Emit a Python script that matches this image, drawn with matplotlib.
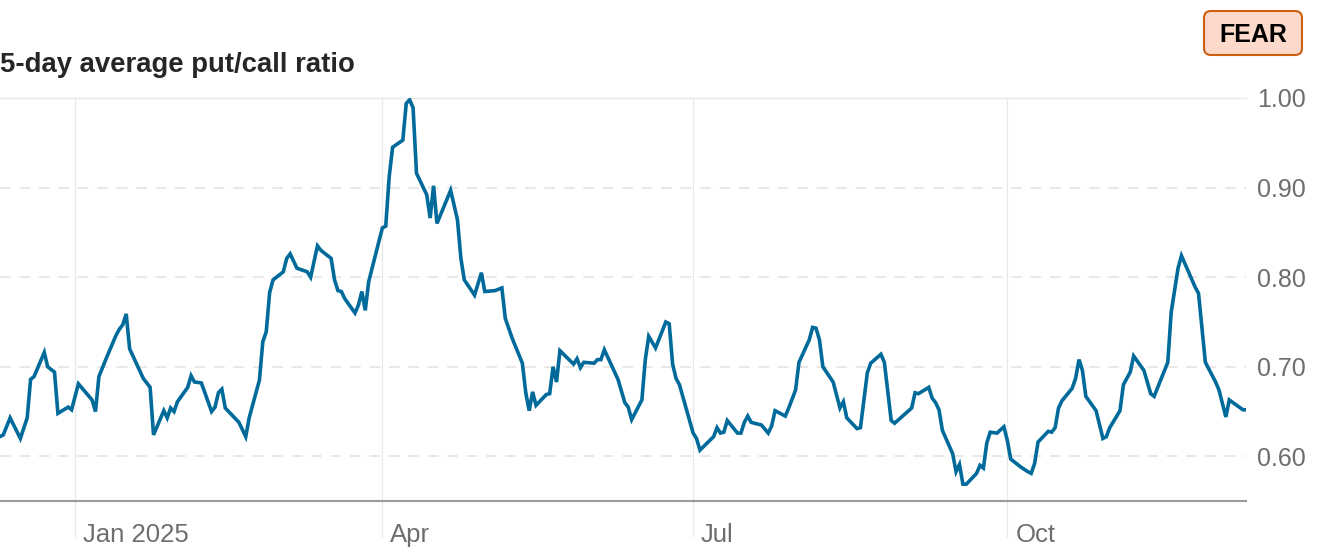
import matplotlib
matplotlib.use("Agg")
import matplotlib.pyplot as plt
import matplotlib.dates as mdates
import matplotlib.transforms as mtrans
from matplotlib.patches import FancyBboxPatch
import numpy as np

plt.rcParams['font.family'] = ['Liberation Sans', 'DejaVu Sans']

W, H = 1318, 558

#days counted from 1 Jan 2025
days = [-22, -21, -19, -16, -14, -13, -12, -9, -8, -6, -5, -2, -1, 1, 5, 6, 7, 9, 12, 13, 14, 15, 16, 20, 22, 23,
        26, 27, 28, 29, 30, 33, 34, 35, 37, 40, 41, 42, 43, 44, 48, 50, 51, 54, 55, 56, 57, 58, 61, 62, 63, 65,
        68, 69, 71, 72, 75, 76, 77, 78, 79, 82, 83, 84, 85, 86, 90, 91, 92, 93, 96, 97, 98, 99, 100, 103, 104,
        105, 106, 110, 112, 113, 114, 117, 119, 120, 123, 125, 126, 128, 131, 132, 133, 134, 135, 138, 139, 140,
        141, 142, 146, 147, 148, 149, 152, 153, 154, 155, 159, 161, 162, 163, 166, 167, 168, 170, 173, 174, 175,
        176, 177, 181, 182, 183, 187, 188, 189, 190, 191, 194, 195, 196, 197, 198, 201, 203, 204, 205, 208, 209,
        211, 212, 215, 216, 217, 218, 219, 222, 224, 225, 226, 229, 230, 232, 233, 236, 237, 239, 240, 245, 246,
        247, 250, 251, 252, 253, 254, 257, 258, 259, 260, 261, 264, 265, 266, 267, 268, 270, 272, 273, 274, 277,
        279, 280, 281, 282, 285, 286, 287, 288, 289, 292, 293, 294, 295, 296, 299, 301, 302, 303, 306, 307, 309,
        310, 313, 315, 316, 320, 321, 323, 324, 328, 329, 331, 334, 335, 337, 338, 342, 343]

ratio = [0.622, 0.624, 0.643, 0.620, 0.643, 0.686, 0.689, 0.716, 0.700, 0.694, 0.648, 0.655, 0.652, 0.681, 0.663,
         0.650, 0.689, 0.708, 0.735, 0.742, 0.747, 0.759, 0.720, 0.687, 0.677, 0.624,
         0.651, 0.643, 0.654, 0.650, 0.661, 0.677, 0.690, 0.683, 0.682, 0.650, 0.655, 0.671, 0.675, 0.654, 0.638,
         0.622, 0.643, 0.685, 0.728, 0.739, 0.783, 0.797, 0.806, 0.821, 0.826, 0.810,
         0.806, 0.800, 0.835, 0.830, 0.821, 0.797, 0.785, 0.784, 0.776, 0.760, 0.769, 0.784, 0.763, 0.795,
         0.855, 0.857, 0.912, 0.945, 0.953, 0.994, 0.998, 0.989, 0.916, 0.892, 0.866,
         0.902, 0.860, 0.897, 0.864, 0.821, 0.797, 0.780, 0.805, 0.784, 0.785, 0.788, 0.754, 0.732, 0.704, 0.671,
         0.651, 0.672, 0.657, 0.669, 0.670, 0.700,
         0.683, 0.718, 0.703, 0.709, 0.699, 0.705, 0.704, 0.708, 0.708, 0.719, 0.686, 0.660, 0.655, 0.641, 0.663,
         0.708, 0.734, 0.721, 0.750, 0.748, 0.703,
         0.687, 0.680, 0.626, 0.620, 0.607, 0.622, 0.632, 0.626, 0.627, 0.640, 0.626, 0.626, 0.638, 0.645, 0.638,
         0.635, 0.626, 0.634, 0.651, 0.645, 0.654,
         0.674, 0.705, 0.730, 0.744, 0.743, 0.730, 0.700, 0.683, 0.654, 0.661, 0.643, 0.631, 0.632, 0.693, 0.704,
         0.714, 0.705, 0.640, 0.637, 0.654, 0.671,
         0.670, 0.677, 0.665, 0.660, 0.652, 0.629, 0.603, 0.583, 0.591, 0.569, 0.569, 0.581, 0.590, 0.587, 0.615,
         0.627, 0.626, 0.633, 0.618, 0.597, 0.588,
         0.583, 0.581, 0.592, 0.616, 0.628, 0.627, 0.632, 0.654, 0.662, 0.676, 0.687, 0.708, 0.696, 0.667, 0.651,
         0.620, 0.622, 0.632, 0.651, 0.680, 0.694,
         0.712, 0.696, 0.670, 0.667, 0.705, 0.761, 0.810, 0.824, 0.789, 0.782, 0.705, 0.683, 0.674, 0.644, 0.663,
         0.652, 0.652]

tick_days = [0, 90, 181, 273]
tick_names = ['Jan 2025', 'Apr', 'Jul', 'Oct']
y_ticks = [0.60, 0.70, 0.80, 0.90, 1.00]

base = mdates.date2num(np.datetime64('2025-01-01'))
dates = base + np.array(days)

fig = plt.figure(figsize=(W / 100, H / 100), dpi=100, facecolor='white')
ax = fig.add_axes([0, 1 - 501 / H, 1246 / W, (501 - 98) / H])
ax.plot(dates, ratio, color='#006a9b', lw=2.6, solid_joinstyle='miter', zorder=3)

ax.set_xlim(base - 21.96, base + 342.9)
ax.set_ylim(0.5502, 1.0)

for s in ['top', 'left', 'right']:
    ax.spines[s].set_visible(False)
ax.spines['bottom'].set_color('#9b9b9b')
ax.spines['bottom'].set_linewidth(1.5)
ax.spines['bottom'].set_zorder(2)

#y grid: dashed, top one solid
ax.yaxis.tick_right()
ax.set_yticks(y_ticks)
ax.set_yticklabels(['%.2f' % v for v in y_ticks])
ax.tick_params(axis='y', length=0, pad=8, labelsize=18, labelcolor='#6e6e6e')
for v in y_ticks:
    if v == 1.00:
        ax.axhline(v, color='#e8e8e8', lw=1, clip_on=False, zorder=1)
    else:
        ax.axhline(v, color='#e8e8e8', lw=1.4, dashes=(5.5, 4.5), zorder=1)

#month lines run past the axis down through the labels
ax.set_xticks(base + np.array(tick_days))
ax.set_xticklabels(tick_names)
ax.tick_params(axis='x', length=26, width=0.9, color='#e8e8e8', pad=-10.5, labelsize=18.5, labelcolor='#6e6e6e')
shift = mtrans.ScaledTranslation(8 / 100, 0, fig.dpi_scale_trans)
for lab in ax.get_xticklabels():
    lab.set_ha('left')
    lab.set_transform(lab.get_transform() + shift)
for d in tick_days:
    ax.axvline(base + d, color='#e8e8e8', lw=0.9, zorder=1)

fig.text(0, 1 - 65.5 / H, '5-day average put/call ratio', fontsize=19.8, fontweight='bold',
         color='#262626', ha='left', va='center')

px = mtrans.IdentityTransform()
fig.add_artist(FancyBboxPatch((1204, H - 55), 98, 44, boxstyle='round,pad=0,rounding_size=7',
                              fc='#fdd9cc', ec='#cc6010', lw=1.5, transform=px))
fig.text(1253 / W, 1 - 35 / H, 'FEAR', fontsize=18, fontweight='bold', color='black', ha='center', va='center')

fig.savefig('out.png', dpi=100, facecolor='white')
